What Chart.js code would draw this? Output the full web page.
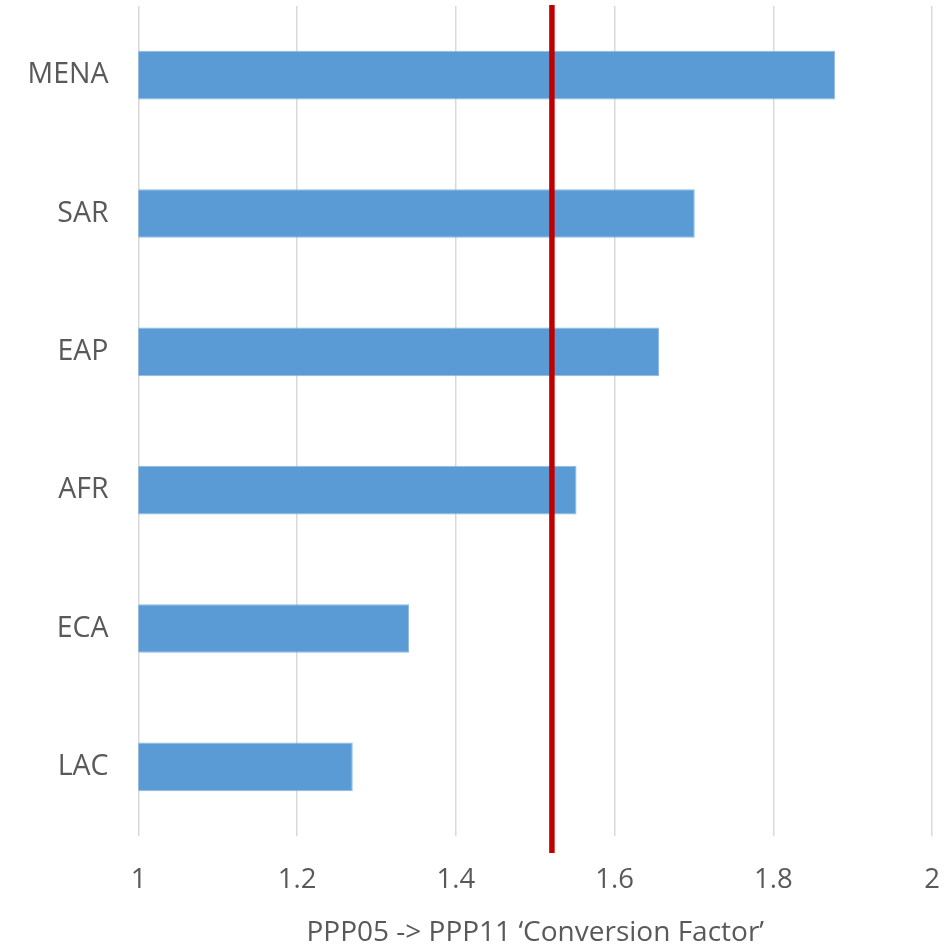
<!DOCTYPE html>
<html>
<head>
<meta charset="utf-8">
<title>PPP05 -> PPP11 Conversion Factor</title>
<script src="https://cdn.jsdelivr.net/npm/chart.js@4/dist/chart.umd.min.js"></script>
<style>
    html, body { margin: 0; padding: 0; background: #fff; }
    #wrap { width: 952px; height: 945px; position: relative; }
</style>
</head>
<body>
<div id="wrap"><canvas id="factorChart"></canvas></div>
<script>
// Regions, top to bottom
const regions = ['MENA', 'SAR', 'EAP', 'AFR', 'ECA', 'LAC'];
// Conversion factor per region
const factors = [1.878, 1.701, 1.656, 1.552, 1.341, 1.270];
// Value of the red reference line
const referenceFactor = 1.521;
const xTicks = [1, 1.2, 1.4, 1.6, 1.8, 2];
const axisTitle = 'PPP05 -> PPP11 \u2018Conversion Factor\u2019';

const textColor = '#595959';
const fontFamily = '"Open Sans", "Noto Sans", sans-serif';

// Red vertical line drawn at the reference value through the x scale
const referenceLine = {
    id: 'referenceLine',
    afterDatasetsDraw(chart) {
        const ctx = chart.ctx;
        const area = chart.chartArea;
        const x = chart.scales.x.getPixelForValue(referenceFactor);
        ctx.save();
        ctx.strokeStyle = '#C00000';
        ctx.lineWidth = 5.5;
        ctx.beginPath();
        ctx.moveTo(x, area.top - 1);
        ctx.lineTo(x, area.bottom + 17);
        ctx.stroke();
        ctx.restore();
    }
};

const ctx = document.getElementById('factorChart');
new Chart(ctx, {
    type: 'bar',
    data: {
        labels: regions,
        datasets: [{
            label: 'Conversion factor',
            data: factors,
            backgroundColor: '#5B9BD5',
            borderColor: '#8DB9E3',
            borderWidth: 1,
            borderSkipped: false,
            barPercentage: 0.352,
            categoryPercentage: 1
        }]
    },
    options: {
        indexAxis: 'y',
        responsive: true,
        maintainAspectRatio: false,
        animation: false,
        layout: {
            padding: { top: 6, right: 20, bottom: 0, left: 0 }
        },
        plugins: {
            legend: { display: false },
            tooltip: { enabled: false }
        },
        scales: {
            x: {
                type: 'linear',
                min: 1,
                max: 2,
                afterBuildTicks: function(scale) {
                    scale.ticks = xTicks.map(v => ({ value: v }));
                },
                afterFit: function(scale) {
                    // keep the plot edges where the picture has them
                    scale.height = 109;
                    scale.paddingLeft = 0;
                    scale.paddingRight = 0;
                },
                grid: {
                    color: '#D9D9D9',
                    lineWidth: 1.5,
                    drawTicks: false
                },
                border: { display: false },
                ticks: {
                    color: textColor,
                    padding: 28,
                    font: { family: fontFamily, size: 27.5 },
                    callback: function(value) { return String(value); }
                },
                title: {
                    display: true,
                    text: axisTitle,
                    color: textColor,
                    font: { family: fontFamily, size: 28, lineHeight: 0.88 },
                    padding: { top: 0, bottom: 0 }
                }
            },
            y: {
                afterFit: function(scale) {
                    scale.width = 138.5;
                    scale.paddingTop = 0;
                    scale.paddingBottom = 0;
                },
                grid: { display: false, drawTicks: false },
                border: { display: false },
                ticks: {
                    color: textColor,
                    padding: 30,
                    font: { family: fontFamily, size: 28.5 }
                }
            }
        }
    },
    plugins: [referenceLine]
});
</script>
</body>
</html>
